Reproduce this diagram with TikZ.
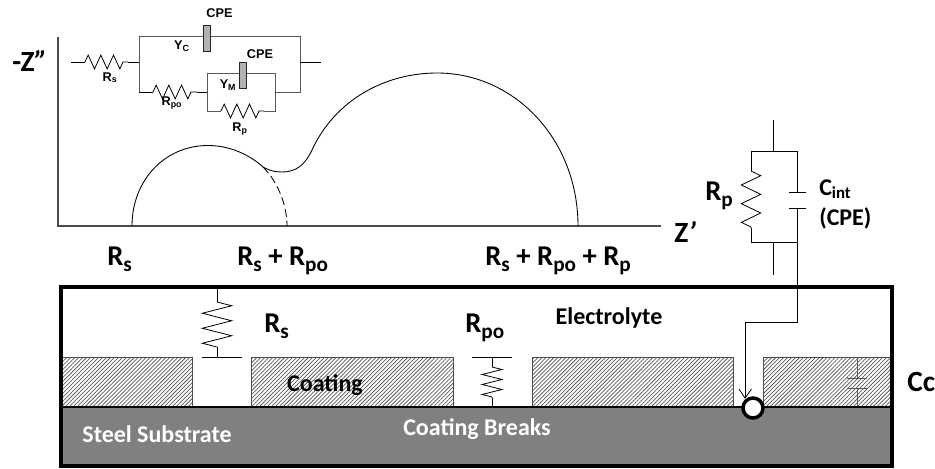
\documentclass[tikz,border=0pt]{standalone}
\usepackage{fontspec}
\setmainfont{Carlito}
\newfontfamily\arialf{Liberation Sans}
\usetikzlibrary{patterns.meta,decorations.pathmorphing,arrows.meta}
\newcommand{\lowsub}[1]{\raisebox{-.24em}{\scalebox{.74}{#1}}}
\tikzset{
  x=0.75pt,y=-0.75pt,
  wire/.style={draw=black,line width=0.6pt},
  graywire/.style={draw=black!65,line width=0.6pt},
  res/.style 2 args={draw=black,line width=0.6pt,decorate,decoration={zigzag,segment length=#1,amplitude=#2}},
  curve/.style={draw=black,line width=0.65pt},
  axisline/.style={draw=black!70,line width=0.9pt},
  hatch/.style={draw=black!70,line width=0.5pt,pattern={Lines[angle=45,distance=2.1pt,line width=0.55pt]},pattern color=black!65,anchor=north west,inner sep=0pt,minimum height=37.5pt},
  big/.style={inner sep=0pt,anchor=base west,font=\fontsize{#1}{#1}\selectfont\bfseries},
  big/.default=21.5,
  mid/.style={inner sep=0pt,anchor=base,font=\fontsize{18}{18}\selectfont\bfseries},
  tiny/.style={inner sep=0pt,font=\arialf\fontsize{9.5}{9.5}\selectfont\bfseries},
  cpe/.style={draw=black!85,fill=black!30,line width=0.8pt,minimum width=5.2pt,minimum height=19.5pt,inner sep=0pt},
}
\begin{document}
\begin{tikzpicture}
\useasboundingbox (0,0) rectangle (935,468);
% axes
\coordinate (o) at (58,226); \coordinate (ytop) at (58,37); \coordinate (xend) at (661,226);
\draw[axisline] (ytop) -- (o) -- (xend);
% impedance curves
\coordinate (a0) at (132,226); \coordinate (a1) at (208,145.5); \coordinate (a2) at (263,167);
\coordinate (a3) at (282,172); \coordinate (a4) at (312,150); \coordinate (a5) at (437,73);
\coordinate (a6) at (578,226); \coordinate (a7) at (287,226);
\draw[curve] (a0) .. controls (132,180) and (165,145.5) .. (a1)
  .. controls (230,145.5) and (250,155) .. (a2)
  .. controls (270,171) and (276,172) .. (a3)
  .. controls (296,172) and (305,165) .. (a4)
  .. controls (335,100) and (385,73) .. (a5)
  .. controls (515,73) and (578,140) .. (a6);
\draw[curve,dash pattern=on 6pt off 3pt] (a2) .. controls (278,182) and (287,205) .. (a7);
% inset circuit
\coordinate (i0) at (71,62); \coordinate (i1) at (85,62); \coordinate (i2) at (128,62);
\coordinate (j) at (139,62); \coordinate (jt) at (139,36); \coordinate (jb) at (139,92);
\coordinate (k) at (300,62); \coordinate (kt) at (300,36); \coordinate (kb) at (300,92);
\coordinate (e) at (321,62);
\coordinate (b1) at (153,92); \coordinate (b2) at (197,92); \coordinate (m) at (207,92);
\coordinate (n) at (275,92); \coordinate (mt) at (207,73); \coordinate (mb) at (207,111);
\coordinate (nt) at (275,73); \coordinate (nb) at (275,111);
\coordinate (c1) at (221,111); \coordinate (c2) at (264,111);
\draw[wire] (i0) -- (i1);
\draw[res={9.5pt}{5.2pt}] (i1) -- (i2);
\draw[wire] (i2) -- (j);
\draw[graywire] (jb) -- (jt) -- (kt) -- (kb) -- (n);
\draw[wire] (k) -- (e);
\draw[wire] (jb) -- (b1);
\draw[res={9.5pt}{5.2pt}] (b1) -- (b2);
\draw[wire] (b2) -- (m);
\draw[graywire] (mb) -- (mt) -- (nt) -- (nb) -- (c2);
\draw[graywire] (mb) -- (c1);
\draw[res={9.5pt}{5.2pt}] (c1) -- (c2);
\node[cpe] (cpe1) at (207,38.5) {};
\node[cpe] (cpe2) at (243,75.5) {};
\node[tiny] (lcpe1) at (219.5,13) {CPE};
\node[tiny] (lcpe2) at (260,54) {CPE};
\node[tiny] (lyc) at (182,46) {Y\textsubscript{C}};
\node[tiny] (lym) at (228,85) {Y\textsubscript{M}};
\node[tiny] (lrs0) at (110,78) {R\textsubscript{s}};
\node[tiny] (lrpo0) at (172,103) {R\textsubscript{po}};
\node[tiny] (lrp0) at (240,129) {R\textsubscript{p}};
% axis labels
\node[big=22] (lz2) at (12,71) {-Z{\itshape\char"27\char"27}};
\node[big=22] (lz1) at (674,242) {Z{\itshape\char"27}};
\node[big] (lr1) at (107,265) {R\lowsub{s}};
\node[big] (lr2) at (237,265) {R\lowsub{s} + R\lowsub{po}};
\node[big] (lr3) at (485,265) {R\lowsub{s} + R\lowsub{po} + R\lowsub{p}};
% outer box
\coordinate (bl) at (61,287); \coordinate (br) at (892,466);
\fill[black!50] (61,407) rectangle (br);
\node[hatch,minimum width=97.5pt] (h1) at (62,357) {};
\node[hatch,minimum width=151.5pt] (h2) at (251,357) {};
\node[hatch,minimum width=150.75pt] (h3) at (532,357) {};
\node[hatch,minimum width=96.75pt] (h4) at (763,357) {};
\draw[black,line width=2pt] (61,407) -- (892,407);
\draw[black,line width=2.3pt] (bl) rectangle (br);
% Rs in electrolyte
\coordinate (s0) at (217,287); \coordinate (s1) at (217,302); \coordinate (s2) at (217,347); \coordinate (s3) at (217,357);
\coordinate (sl) at (202,357); \coordinate (sr) at (242,357);
\draw[wire] (s0) -- (s1);
\draw[res={11.25pt}{11pt}] (s1) -- (s2);
\draw[wire] (s2) -- (s3);
\draw[wire] (sl) -- (sr);
% Rpo
\coordinate (p0) at (492,357); \coordinate (p1) at (492,367); \coordinate (p2) at (492,398); \coordinate (p3) at (492,406);
\coordinate (pl) at (472,357); \coordinate (pr) at (512,357);
\draw[wire] (pl) -- (pr);
\draw[wire] (p0) -- (p1);
\draw[res={7.5pt}{7.5pt}] (p1) -- (p2);
\draw[wire] (p2) -- (p3);
% Cc capacitor
\coordinate (q0) at (857,357); \coordinate (q1) at (857,378); \coordinate (q2) at (857,388); \coordinate (q3) at (857,406);
\coordinate (ql) at (847,378); \coordinate (qr) at (867,378); \coordinate (ql2) at (847,388); \coordinate (qr2) at (867,388);
\draw[graywire] (q0) -- (q1) (ql) -- (qr) (ql2) -- (qr2) (q2) -- (q3);
% equivalent circuit right
\coordinate (t0) at (773,120); \coordinate (t1) at (773,151); \coordinate (tl) at (751,151); \coordinate (tr) at (797,151);
\coordinate (r1) at (751,171); \coordinate (r2) at (751,228); \coordinate (bl2) at (751,242); \coordinate (br2) at (797,242);
\coordinate (u0) at (773,242); \coordinate (u1) at (773,275);
\coordinate (w1) at (797,322); \coordinate (w2) at (745,322); \coordinate (w3) at (745,398);
\coordinate (c1a) at (797,192); \coordinate (c1b) at (797,208);
\coordinate (c1l) at (789,192); \coordinate (c1r) at (806,192); \coordinate (c2l) at (789,208); \coordinate (c2r) at (806,208);
\draw[wire] (t0) -- (t1);
\draw[wire] (r1) -- (tl) -- (tr) -- (c1a);
\draw[res={14pt}{7.3pt}] (r1) -- (r2);
\draw[wire] (r2) -- (bl2) -- (br2) -- (c1b);
\draw[wire] (c1l) -- (c1r);
\draw[wire] (c2l) -- (c2r);
\draw[wire] (u0) -- (u1);
\draw[wire] (br2) -- (w1) -- (w2) -- (w3);
\coordinate (v1) at (739,389); \coordinate (v2) at (751.5,389);
\draw[wire] (v1) -- (w3) -- (v2);
\node[circle,draw=black,fill=white,line width=2.6pt,minimum size=15pt,inner sep=0pt] (spot) at (753,408) {};
% labels
\node[big] (lrp) at (705,200) {R\lowsub{p}};
\node[big=18] (lcint) at (819,195) {C\textsubscript{int}};
\node[big=18] (lcpe) at (819,225) {(CPE)};
\node[big] (lrs) at (264,332) {R\lowsub{s}};
\node[big] (lrpo) at (465,332) {R\lowsub{po}};
\node[mid] (lel) at (609,324) {Electrolyte};
\node[mid] (lco) at (325,391) {Coating};
\node[mid,text=white] (lst) at (157,442) {Steel Substrate};
\node[mid,text=white] (lbr) at (477,435) {Coating Breaks};
\node[big=22] (lcc) at (907,391) {Cc};
\end{tikzpicture}
\end{document}
